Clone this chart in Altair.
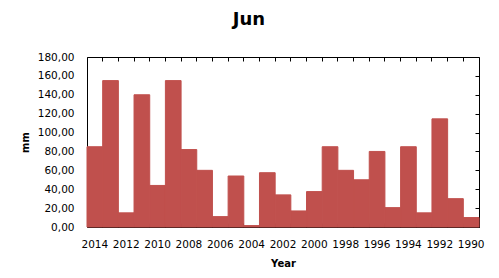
import altair as alt
import pandas as pd

years = list(range(2014, 1989, -1))
rain_mm = [85, 155, 15, 140, 44, 155, 82, 60, 11, 54, 1.5, 57.5, 34, 17, 37.5,
           85, 60, 50, 80, 20.5, 85, 15, 114.5, 30, 10]
y_ticks = list(range(0, 181, 20))

df = pd.DataFrame({"Year": years, "mm": rain_mm})

FONT = "DejaVu Sans"
RED = "#C0504D"
xs = alt.Scale(paddingInner=0, paddingOuter=0)
ys = alt.Scale(domain=[0, 180], nice=False)

base = alt.Chart(df)

bars = base.mark_bar(color=RED, stroke=RED, strokeWidth=1, opacity=1).encode(
    x=alt.X("Year:O", sort="descending", scale=xs,
            axis=alt.Axis(orient="bottom", title="Year",
                          labelExpr="datum.value % 2 == 0 ? datum.label : ''",
                          ticks=False, tickSize=0, labelPadding=12, labelAngle=0,
                          domain=False, titlePadding=9, titleFontSize=10,
                          titleFontWeight="bold", titleFont=FONT, titleColor="black",
                          labelFontSize=10.5, labelFont=FONT, labelColor="black")),
    y=alt.Y("mm:Q", scale=ys,
            axis=alt.Axis(orient="left", values=y_ticks,
                          labelExpr="replace(format(datum.value, '.2f'), '.', ',')",
                          ticks=False, tickSize=0, labelPadding=13, domain=False,
                          grid=False, title="mm", titlePadding=7, titleFontSize=10,
                          titleFontWeight="bold", titleFont=FONT, titleColor="black",
                          labelFontSize=10.5, labelFont=FONT, labelColor="black")),
)

ticks_a = base.mark_bar(opacity=0).encode(
    x=alt.X("Year:O", sort="descending", scale=xs,
            axis=alt.Axis(orient="top", offset=-170, labels=False, ticks=True,
                          tickSize=4, tickColor="black", bandPosition=0,
                          domain=False, title=None)),
    y=alt.Y("mm:Q", scale=ys,
            axis=alt.Axis(orient="left", offset=-392, values=y_ticks, labels=False,
                          ticks=True, tickSize=4, tickColor="black", domain=False,
                          grid=False, title=None)),
)

ticks_b = base.mark_bar(opacity=0).encode(
    x=alt.X("Year:O", sort="descending", scale=xs,
            axis=alt.Axis(orient="bottom", offset=-170, labels=False, ticks=True,
                          tickSize=4, tickColor="black", bandPosition=0,
                          domain=False, title=None)),
    y=alt.Y("mm:Q", scale=ys, axis=None),
)

chart = alt.layer(bars, ticks_a, ticks_b).resolve_axis(
    x="independent", y="independent"
).properties(
    width=392, height=170,
    title=alt.Title("Jun", fontSize=18, font=FONT, fontWeight="bold",
                    color="black", offset=23, anchor="middle", dx=-34),
    padding={"left": 79, "top": 49, "right": 12, "bottom": 51},
    autosize=alt.AutoSizeParams(type="none"),
).configure_view(stroke="black", strokeWidth=1)

chart.save("out.html", embed_options={"renderer": "svg", "actions": False})
